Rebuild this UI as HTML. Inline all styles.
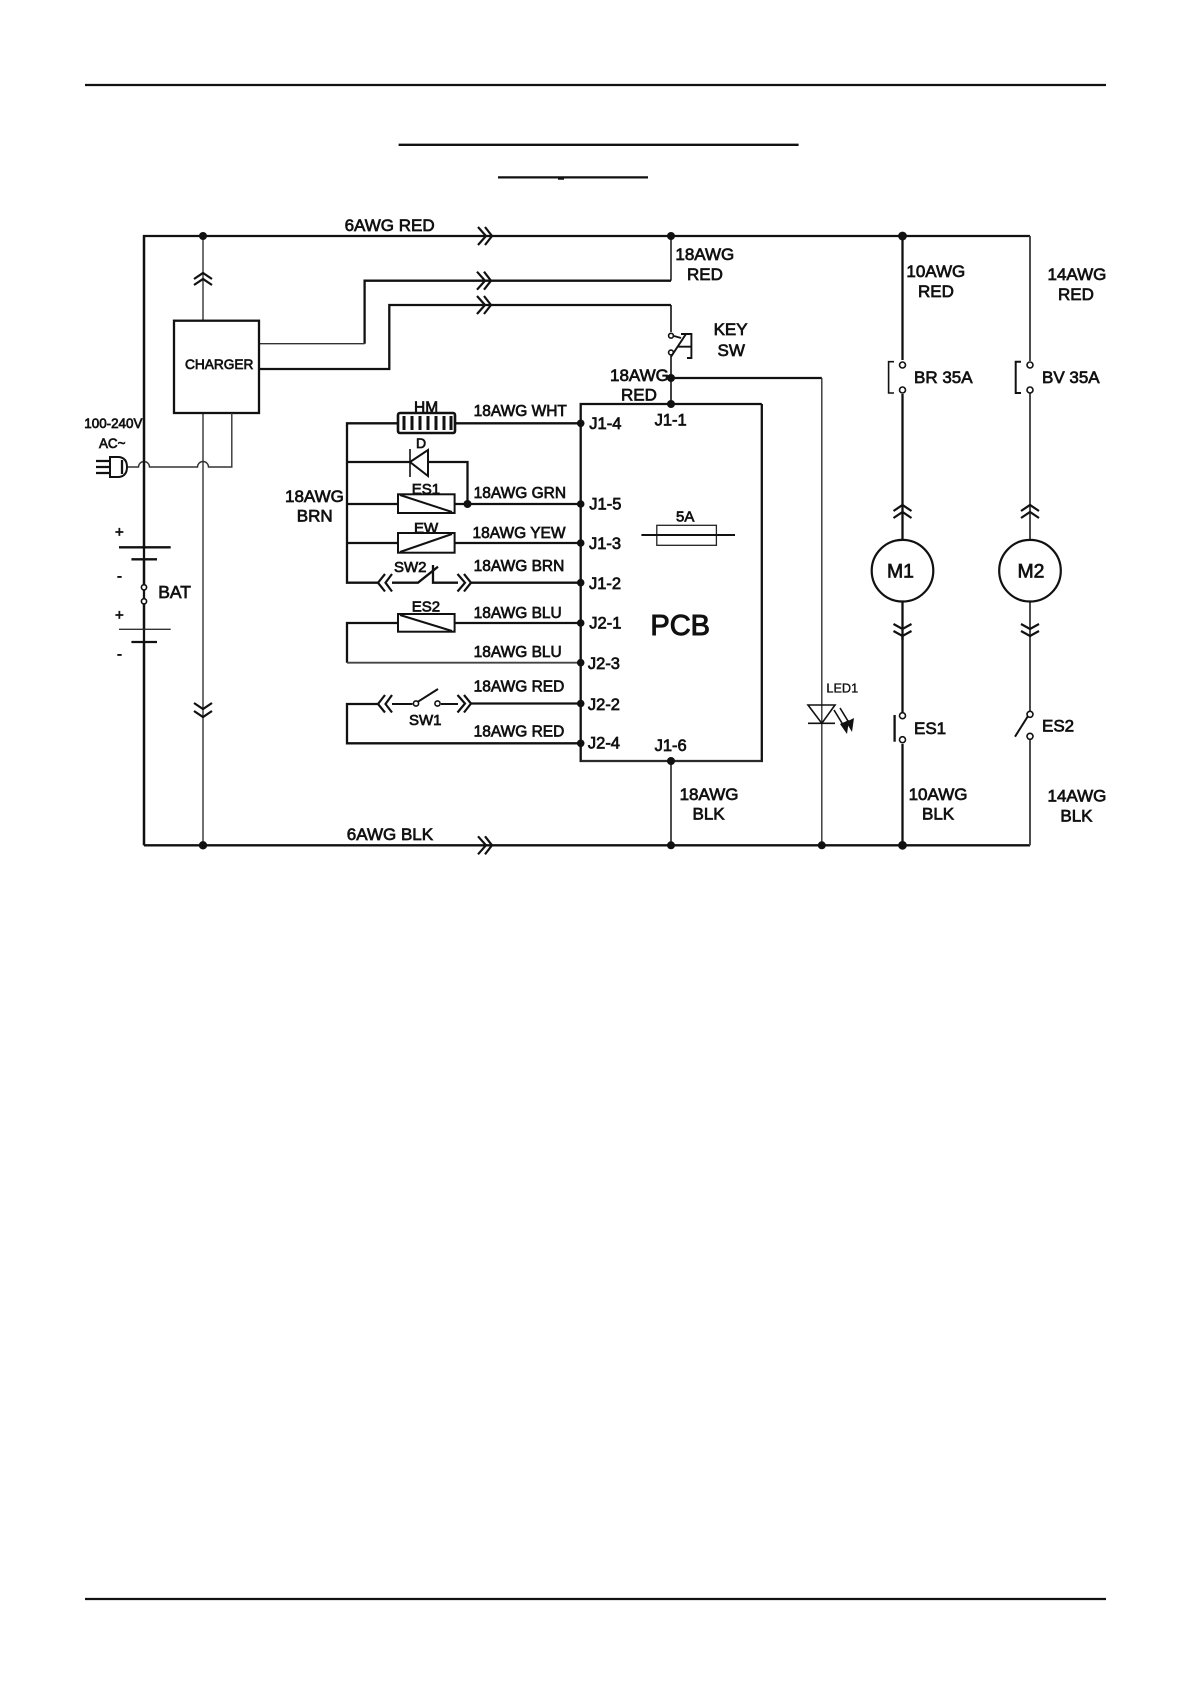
<!DOCTYPE html>
<html><head><meta charset="utf-8"><style>
html,body{margin:0;padding:0;background:#fff}
svg{display:block}
text{font-family:"Liberation Sans",sans-serif;fill:#111;stroke:#111;stroke-width:.7;font-size:15.5px}
.w{fill:none;stroke:#111;stroke-width:2.3}
.t{fill:none;stroke:#333;stroke-width:1.4}
.g{fill:none;stroke:#444;stroke-width:1.9}
.m{fill:none;stroke:#111;stroke-width:1.6}
.d{fill:#111;stroke:none}
.o{fill:#fff;stroke:#111;stroke-width:1.6}
</style></head><body>
<svg width="1191" height="1684" viewBox="0 0 1191 1684" xmlns="http://www.w3.org/2000/svg">
<rect width="1191" height="1684" fill="#fff"/>
<!-- rules -->
<path class="w" d="M85 85H1106M85 1599H1106"/>
<path class="w" d="M398.6 144.8H798.6M498 177.4H648"/>
<path class="w" d="M558 178.6H564"/>
<!-- main wires -->
<path class="w" d="M144 845.3V236H902.5"/>
<path class="w" d="M902.5 236H1030M902.5 845.3H1030"/>
<path class="w" d="M144 845.3H902.5"/>
<path class="w" d="M902.5 236V360M902.5 394V503M902.5 636V712M902.5 744V845.3"/>
<path class="w" d="M902.5 503V540M902.5 602V640"/>
<path class="g" d="M1030 392V540M1030 602V712M1030 740V845.3M1030 236V361"/>
<path class="t" d="M203 236V320.7M203 413V845.3"/>
<path class="g" d="M671 236V280.7"/>
<path class="w" d="M364.6 343.7V280.7H671"/>
<path class="t" d="M259 343.7H364.6"/>
<path class="w" d="M259 369H389.3V305H671"/>
<path class="m" d="M671 305V332M671 356V404"/>
<path class="w" d="M671 378H821.8"/>
<path class="t" d="M821.8 378V845.3"/>
<path class="g" d="M671 761V845.3"/>
<!-- Charger -->
<rect x="174" y="320.7" width="85" height="92.3" class="w" fill="none"/>
<path class="t" d="M231.8 413V467H208.5A5.5 5.5 0 0 0 197.5 467H149.5A5.5 5.5 0 0 0 138.5 467H127"/>
<!-- plug -->
<path class="w" d="M96 461H110M96 467H110M96 473H110"/>
<path class="m" d="M110 457H119Q127 458 127 467Q127 476 119 477H110Z" style="stroke-width:2"/>
<path class="w" d="M122 460V474"/>
<!-- PCB -->
<path class="w" d="M761.8 404V761H580.7V404H761.8"/>
<path class="t" d="M580.7 761H761.8"/>
<!-- left harness -->
<path class="w" d="M398 423.3H347V582.7H378M455 423.3H580.7"/>
<path class="w" d="M347 462H467.5V504M347 504H398M454.6 504H580.7M347 543H398M454.6 543H580.7"/>
<path class="w" d="M392 582.7H418L438 566.7M433 565V582.7H458M470.7 582.7H580.7"/>
<path class="w" d="M398 623H347V662.7M454.6 623H580.7"/>
<path class="g" d="M347 662.7H580.7"/>
<path class="w" d="M378 704H347V743.3H580.7M470.7 703.5H580.7"/>
<path class="m" d="M392 704H412.5M441 704H458M418 701.7L438 689" style="stroke-width:2"/>
<circle cx="416" cy="703.5" r="2.6" class="o"/><circle cx="437.5" cy="703.5" r="2.6" class="o"/>
<!-- HM -->
<rect x="398" y="413" width="57" height="20" rx="2" class="o" style="stroke-width:2.6"/>
<path d="M404 416V430M412 416V430M420 416V430M428 416V430M436 416V430M444 416V430M451 416V430" fill="none" stroke="#111" stroke-width="3"/>
<!-- diode -->
<path class="o" d="M410 462L428 450V476Z" style="stroke-width:2"/>
<path class="m" d="M410 449V477"/>
<!-- relays -->
<g>
<rect x="398" y="494.3" width="56.6" height="18.7" class="o" style="stroke-width:2"/>
<path class="m" d="M400 495L452 512" style="stroke-width:2"/>
<rect x="398" y="533" width="56.6" height="19.7" class="o" style="stroke-width:2"/>
<path class="m" d="M400 552L452 534" style="stroke-width:2"/>
<rect x="398" y="614" width="56.6" height="17.7" class="o" style="stroke-width:2"/>
<path class="m" d="M400 615L452 631" style="stroke-width:2"/>
</g>
<!-- chevrons -->
<g class="m" style="fill:none;stroke:#111;stroke-width:2.2">
<path d="M478 227L486 236L478 245M485 227L492 236L485 245"/>
<path d="M477 271.7L485 280.7L477 289.7M484 271.7L491 280.7L484 289.7"/>
<path d="M477 296L485 305L477 314M484 296L491 305L484 314"/>
<path d="M478 836.3L486 845.3L478 854.3M485 836.3L492 845.3L485 854.3"/>
<path d="M457.5 574L465 582.7L457.5 591.5M464 574L471 582.7L464 591.5"/>
<path d="M457.5 695L465 703.5L457.5 712.5M464 695L471 703.5L464 712.5"/>
<path d="M385 574L378 582.7L385 591.5M392 574L385.5 582.7L392 591.5"/>
<path d="M385 695L378 704L385 712.5M392 695L385.5 704L392 712.5"/>
<path d="M194 279L203 273L212 279M194 285L203 279L212 285"/>
<path d="M893.5 511L902.5 505L911.5 511M893.5 518L902.5 512L911.5 518"/>
<path d="M1021 511L1030 505L1039 511M1021 518L1030 512L1039 518"/>
<path d="M194 703L203 709L212 703M194 711L203 717L212 711"/>
<path d="M893.5 624L902.5 629L911.5 624M893.5 631L902.5 636L911.5 631"/>
<path d="M1021 624L1030 629L1039 624M1021 631L1030 636L1039 631"/>
</g>
<!-- Battery -->
<path class="w" d="M119 547.3H170.7M131.4 559.3H157M131.4 642H157"/>
<path class="t" d="M119 629.3H170.7"/>
<path class="w" d="M144 547.3V236M144 559.3V585M144 604V629.3M144 642V845.3"/>
<circle cx="144" cy="587.3" r="2.6" class="o"/><circle cx="144" cy="601.3" r="2.6" class="o"/>
<!-- Key switch -->
<circle cx="671" cy="335.7" r="2.4" class="o"/><circle cx="671" cy="352.5" r="2.4" class="o"/>
<path class="m" d="M671 356.7L686 334M677 346.7H691.4M681 334H691.4V358H687M674 336L681 338" style="stroke-width:1.9"/>
<!-- fuses BR/BV -->
<circle cx="902.5" cy="365" r="3" class="o"/><circle cx="902.5" cy="390" r="3" class="o"/>
<path class="m" d="M894 361.7H888.6V393H894"/>
<circle cx="1030" cy="365" r="3" class="o"/><circle cx="1030" cy="390" r="3" class="o"/>
<path class="m" d="M1021 361.7H1015.7V393H1021" style="stroke-width:2"/>
<!-- PCB fuse -->
<rect x="656.8" y="525.3" width="59.6" height="20" fill="none" stroke="#222" stroke-width="1.3"/>
<path class="m" d="M641.4 535H735" style="stroke-width:2"/>
<!-- motors -->
<circle cx="902.5" cy="570.7" r="30.8" fill="#fff" stroke="#111" stroke-width="2.2"/>
<circle cx="1030" cy="570.7" r="30.8" fill="#fff" stroke="#111" stroke-width="2.2"/>
<!-- LED -->
<path class="m" d="M808 705H835L821.8 723.3ZM808 723.3H835"/>
<path class="m" d="M834 710L845 728M840 708L851 726"/>
<path d="M847 734L840 724L849 720Z M852 732L846 722L854 718Z" fill="#111"/>
<!-- ES1, ES2 -->
<circle cx="902.5" cy="715.7" r="3" class="o"/><circle cx="902.5" cy="739.7" r="3" class="o"/>
<path class="w" d="M894.6 715V741.7"/>
<circle cx="1030" cy="714.3" r="3" class="o"/><circle cx="1030" cy="736.3" r="3" class="o"/>
<path class="m" d="M1028 716L1015 736.7" style="stroke-width:2"/>
<!-- junction dots -->
<g class="d">
<circle cx="203" cy="236" r="4"/><circle cx="671" cy="236" r="4"/><circle cx="902.5" cy="236" r="4.4"/>
<circle cx="671" cy="378" r="4"/><circle cx="671" cy="404" r="4"/>
<circle cx="580.7" cy="423.3" r="3.8"/><circle cx="467.5" cy="504" r="4"/><circle cx="580.7" cy="504" r="3.8"/>
<circle cx="580.7" cy="543" r="3.8"/><circle cx="580.7" cy="582.7" r="3.8"/><circle cx="580.7" cy="623" r="3.8"/>
<circle cx="580.7" cy="662.7" r="3.8"/><circle cx="580.7" cy="703.5" r="3.8"/><circle cx="580.7" cy="743.3" r="3.8"/>
<circle cx="671" cy="761" r="4"/><circle cx="203" cy="845.3" r="4.2"/><circle cx="671" cy="845.3" r="4"/>
<circle cx="821.8" cy="845.3" r="4"/><circle cx="902.5" cy="845.3" r="4.4"/>
</g>
<!-- labels -->
<text x="344.6" y="231.2" style="font-size:17px">6AWG RED</text>
<text x="346.8" y="840" style="font-size:17px">6AWG BLK</text>
<text x="675.4" y="260" style="font-size:17px">18AWG</text><text x="687" y="280" style="font-size:17px">RED</text>
<text x="906.4" y="276.8" style="font-size:17px">10AWG</text><text x="918" y="297" style="font-size:17px">RED</text>
<text x="1047.5" y="280" style="font-size:17px">14AWG</text><text x="1058" y="300" style="font-size:17px">RED</text>
<text x="713.6" y="335" style="font-size:17px">KEY</text><text x="717.5" y="356" style="font-size:17px">SW</text>
<text x="610" y="381" style="font-size:17px">18AWG</text><text x="621" y="400.7" style="font-size:17px">RED</text>
<text x="654.6" y="425.7" style="font-size:16.5px">J1-1</text>
<text x="914" y="383" style="font-size:17px">BR 35A</text><text x="1042" y="383" style="font-size:17px">BV 35A</text>
<text x="185" y="369" style="font-size:13.7px">CHARGER</text>
<text x="84.3" y="428" style="font-size:13.4px">100-240V</text><text x="99" y="448" style="font-size:13.4px">AC~</text>
<text x="414" y="412.7">HM</text><text x="416" y="448" style="font-size:14px">D</text>
<text x="473.6" y="416">18AWG WHT</text><text x="589.3" y="429" style="font-size:16.5px">J1-4</text>
<text x="285" y="502" style="font-size:17px">18AWG</text><text x="296.8" y="521.7" style="font-size:17px">BRN</text>
<text x="411.8" y="494" style="font-size:15px">ES1</text><text x="473.6" y="498">18AWG GRN</text><text x="589.3" y="509.3" style="font-size:16.5px">J1-5</text>
<text x="414" y="533" style="font-size:15px">EW</text><text x="472.5" y="538">18AWG YEW</text><text x="589" y="549" style="font-size:16.5px">J1-3</text>
<text x="394" y="572" style="font-size:15px">SW2</text><text x="473.6" y="571.2">18AWG BRN</text><text x="589" y="589" style="font-size:16.5px">J1-2</text>
<text x="411.8" y="611.5" style="font-size:15px">ES2</text><text x="473.6" y="618">18AWG BLU</text><text x="589.3" y="628.3" style="font-size:16.5px">J2-1</text>
<text x="473.6" y="657">18AWG BLU</text><text x="587.9" y="669" style="font-size:16.5px">J2-3</text>
<text x="473.6" y="691.5">18AWG RED</text><text x="587.9" y="710" style="font-size:16.5px">J2-2</text>
<text x="409" y="725" style="font-size:15px">SW1</text><text x="473.6" y="736.5">18AWG RED</text><text x="587.9" y="748.3" style="font-size:16.5px">J2-4</text>
<text x="158.2" y="598" style="font-size:17.5px">BAT</text>
<text x="115" y="537" style="font-size:15px">+</text><text x="117" y="581" style="font-size:15px">-</text><text x="115" y="620" style="font-size:15px">+</text><text x="117" y="659" style="font-size:15px">-</text>
<text x="676" y="521.5" style="font-size:15px">5A</text>
<text x="650.4" y="640" style="font-size:29px;stroke-width:1" transform="translate(0 -5)">PCB</text>
<text x="887" y="577.3" style="font-size:19.4px">M1</text><text x="1017.5" y="577.3" style="font-size:19.4px">M2</text>
<text x="826.4" y="692.7" style="font-size:12.7px;stroke-width:.35">LED1</text>
<text x="654.6" y="751" style="font-size:16.5px">J1-6</text>
<text x="679.6" y="800" style="font-size:17px">18AWG</text><text x="692.5" y="819.3" style="font-size:17px">BLK</text>
<text x="914" y="734" style="font-size:17px">ES1</text><text x="1042" y="731.5" style="font-size:17px">ES2</text>
<text x="908.6" y="800" style="font-size:17px">10AWG</text><text x="922" y="819.3" style="font-size:17px">BLK</text>
<text x="1047.5" y="801.5" style="font-size:17px">14AWG</text><text x="1060.4" y="821.5" style="font-size:17px">BLK</text>
</svg>
</body></html>
